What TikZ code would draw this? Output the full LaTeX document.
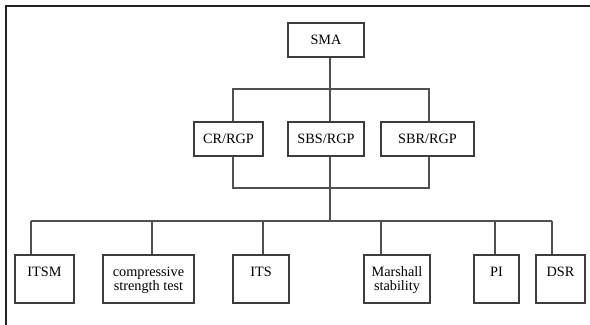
\documentclass[tikz,border=0pt]{standalone}
\usepackage{fontspec}
\setmainfont{Liberation Serif}
\usetikzlibrary{positioning,calc}
\definecolor{frameDark}{HTML}{222222}
\definecolor{boxDark}{HTML}{3C3C3C}
\definecolor{linkGray}{HTML}{505050}

\begin{document}
\begin{tikzpicture}[x=0.75pt,y=-0.75pt,
  mixBox/.style ={rectangle, draw=boxDark, line width=0.8pt, inner sep=0pt, minimum height=25.5pt, font=\fontsize{10.7}{10.5}\selectfont},
  testBox/.style={rectangle, draw=boxDark, line width=0.8pt, inner sep=0pt, minimum height=36pt},
  testText/.style={anchor=north, inner sep=0pt, align=center, font=\fontsize{10.7}{10.5}\selectfont},
  link/.style   ={draw=linkGray, line width=0.8pt},
]
\useasboundingbox (0,0) rectangle (590,325);
% frame: only top and left edges
\draw[frameDark, line width=1.6pt] (6,325) -- (6,6) -- (590,6);

% mixtures
\node[mixBox, minimum width=57pt]    (sma) at (326,40)    {SMA};
\node[mixBox, minimum width=51.75pt] (cr)  at (228.5,139) {CR/RGP};
\node[mixBox, minimum width=57pt]    (sbs) at (326,139)   {SBS/RGP};
\node[mixBox, minimum width=69.75pt] (sbr) at (427.5,139) {SBR/RGP};

% tests
\node[testBox, minimum width=44.25pt] (itsm) at (44.5,279)  {};
\node[testBox, minimum width=68.25pt] (comp) at (148.5,279) {};
\node[testBox, minimum width=42pt]    (its)  at (261,279)   {};
\node[testBox, minimum width=49.5pt]  (mar)  at (397,279)   {};
\node[testBox, minimum width=33.75pt] (pi)   at (496.5,279) {};
\node[testBox, minimum width=36.75pt] (dsr)  at (560.5,279) {};
\node[testText] (itsmTxt) at ([yshift=-9pt]itsm.north) {ITSM};
\node[testText] (compTxt) at ([yshift=-9pt]comp.north) {compressive\\strength test};
\node[testText] (itsTxt)  at ([yshift=-9pt]its.north)  {ITS};
\node[testText] (marTxt)  at ([yshift=-9pt]mar.north)  {Marshall\\stability};
\node[testText] (piTxt)   at ([yshift=-9pt]pi.north)   {PI};
\node[testText] (dsrTxt)  at ([yshift=-9pt]dsr.north)  {DSR};

% connectors
\coordinate (crTop)    at (233,89);
\coordinate (sbrTop)   at (429,89);
\coordinate (splitTop) at (330,89);
\coordinate (joinLow)  at (330,188);
\coordinate (splitLow) at (330,221);
\coordinate (busL)     at (31,221);
\coordinate (busR)     at (552,221);
\draw[link] (splitTop |- sma.south) -- (splitTop |- sbs.north);
\draw[link] (crTop |- cr.north) -- (crTop) -- (sbrTop) -- (sbrTop |- sbr.north);
\draw[link] (crTop |- cr.south) -- (crTop |- joinLow) -- (sbrTop |- joinLow) -- (sbrTop |- sbr.south);
\draw[link] (splitTop |- sbs.south) -- (splitLow);
\draw[link] (busL) -- (busR);
\foreach \t/\dx in {itsm/31, comp/152, its/263, mar/381, pi/495, dsr/552} {
  \coordinate (drop) at (\dx,221);
  \draw[link] (drop) -- (drop |- \t.north);
}
\end{tikzpicture}
\end{document}
